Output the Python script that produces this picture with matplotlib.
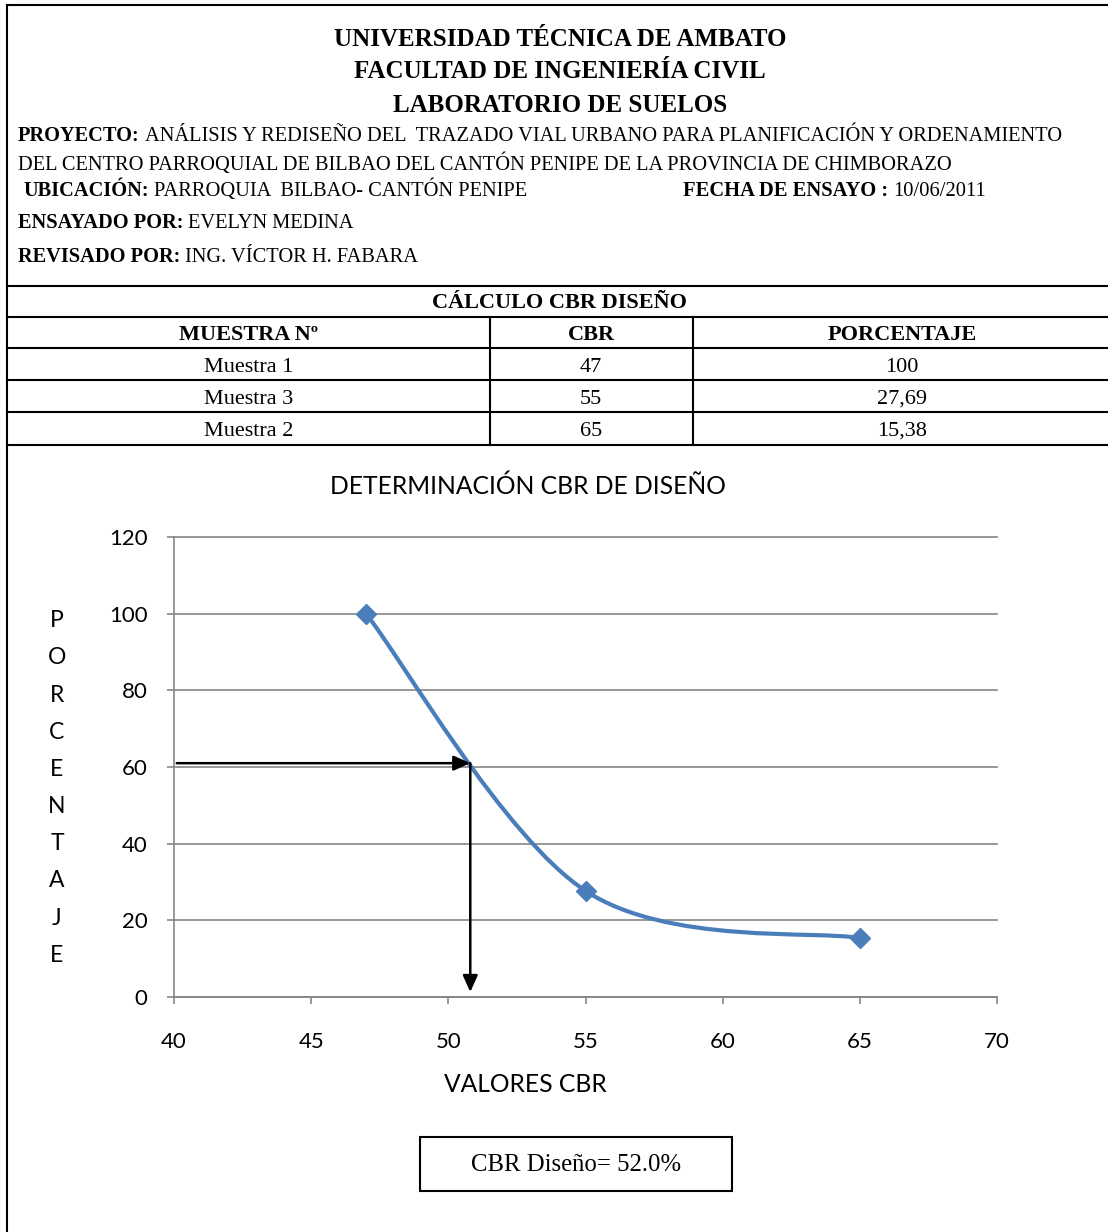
import matplotlib
matplotlib.use('Agg')
import matplotlib.pyplot as plt
from matplotlib.path import Path
from matplotlib.patches import PathPatch, Rectangle
import numpy as np

# --- data ---
muestras = ['Muestra 1', 'Muestra 3', 'Muestra 2']
cbr = [47, 55, 65]
porcentaje = [100, 27.69, 15.38]
porcentaje_txt = ['100', '27,69', '15,38']
cbr_lectura = 50.8      # CBR
pct_lectura = 61        # percentage used for the reading
cbr_diseno_txt = 'CBR Diseño= 52.0%'

x_ticks = [40, 45, 50, 55, 60, 65, 70]
y_ticks = [0, 20, 40, 60, 80, 100, 120]

W, H = 1108, 1232
SERIF = 'Liberation Serif'
SANS = 'Lato'
BLUE = '#4A7EBB'
GRAY = '#868686'

fig = plt.figure(figsize=(W / 100, H / 100), dpi=100)
fig.patch.set_facecolor('white')

# background axes in pixel coordinates for the form layout
bg = fig.add_axes([0, 0, 1, 1])
bg.set_xlim(0, W)
bg.set_ylim(H, 0)
bg.axis('off')

lw = 1.5
# outer frame and separators
bg.plot([7, W], [5, 5], color='black', lw=lw)
bg.plot([7, 7], [5, H], color='black', lw=lw)
for yy in [286, 317, 348, 380, 412, 445]:
    bg.plot([7, W], [yy, yy], color='black', lw=lw)
for xx in [490, 693]:
    bg.plot([xx, xx], [317, 445], color='black', lw=lw)

# header
for txt, yy in [('UNIVERSIDAD TÉCNICA DE AMBATO', 39),
                ('FACULTAD DE INGENIERÍA CIVIL', 72),
                ('LABORATORIO DE SUELOS', 105)]:
    bg.text(560, yy, txt, family=SERIF, weight='bold', fontsize=18,
            ha='center', va='center')


def label_line(x, y, bold, normal, size=14.7):
    t = bg.text(x, y, bold, family=SERIF, weight='bold', fontsize=size,
                ha='left', va='center')
    bg.annotate(normal, xy=(1, 0), xycoords=t, xytext=(3.5, 0),
                textcoords='offset points', family=SERIF, fontsize=size,
                ha='left', va='bottom')
    return t


label_line(18, 136, 'PROYECTO:',
           'ANÁLISIS Y REDISEÑO DEL  TRAZADO VIAL URBANO PARA PLANIFICACIÓN Y ORDENAMIENTO')
bg.text(18, 164, 'DEL CENTRO PARROQUIAL DE BILBAO DEL CANTÓN PENIPE DE LA PROVINCIA DE CHIMBORAZO',
        family=SERIF, fontsize=14.7, ha='left', va='center')
label_line(24, 191, 'UBICACIÓN:', 'PARROQUIA  BILBAO- CANTÓN PENIPE')
label_line(683, 191, 'FECHA DE ENSAYO :', '10/06/2011', size=14.8)
label_line(18, 223, 'ENSAYADO POR:', 'EVELYN MEDINA')
label_line(18, 257, 'REVISADO POR:', 'ING. VÍCTOR H. FABARA')

# table
col_x = [249, 591, 902]
row_y = [367, 399, 431]
bg.text(560, 303, 'CÁLCULO CBR DISEÑO', family=SERIF, weight='bold',
        fontsize=16, ha='center', va='center')
for cx, head in zip(col_x, ['MUESTRA Nº', 'CBR', 'PORCENTAJE']):
    bg.text(cx, 335, head, family=SERIF, weight='bold', fontsize=16,
            ha='center', va='center')
for ry, m, c, p in zip(row_y, muestras, cbr, porcentaje_txt):
    for cx, val in zip(col_x, [m, str(c), p]):
        bg.text(cx, ry, val, family=SERIF, fontsize=16, ha='center', va='center')

# chart
bg.text(528, 486, 'DETERMINACIÓN CBR DE DISEÑO', family=SANS, fontsize=17.7,
        ha='center', va='center')
bg.text(57, 788, '\n'.join('PORCENTAJE'), family=SANS, fontsize=16.5,
        ha='center', va='center', linespacing=1.95)
bg.text(525, 1085, 'VALORES CBR', family=SANS, fontsize=17.7,
        ha='center', va='center')

ax = fig.add_axes([174 / W, 1 - 997 / H, (997 - 174) / W, (997 - 537) / H])
ax.set_facecolor('none')
ax.set_xlim(40, 70)
ax.set_ylim(0, 120)
ax.set_xticks(x_ticks)
ax.set_yticks(y_ticks)
ax.grid(axis='y', color=GRAY, lw=1.2)
for gl in ax.get_ygridlines():
    gl.set_clip_on(False)
ax.set_axisbelow(True)
for side in ['top', 'right']:
    ax.spines[side].set_visible(False)
for side in ['left', 'bottom']:
    ax.spines[side].set_color(GRAY)
    ax.spines[side].set_linewidth(1.2)
ax.tick_params(axis='both', colors=GRAY, length=5, width=1.2, direction='out',
               labelsize=16, labelcolor='black')
ax.tick_params(axis='x', pad=20)
ax.tick_params(axis='y', pad=14)
for lab in ax.get_xticklabels() + ax.get_yticklabels():
    lab.set_family(SANS)

# Excel-style smoothed line (cubic Bezier through the points)
px = np.array(cbr, dtype=float)
py = np.array(porcentaje, dtype=float)
n = len(px)
verts = [(px[0], py[0])]
codes = [Path.MOVETO]
for i in range(n - 1):
    i0 = max(i - 1, 0)
    i3 = min(i + 2, n - 1)
    c1 = (px[i] + (px[i + 1] - px[i0]) / 6, py[i] + (py[i + 1] - py[i0]) / 6)
    c2 = (px[i + 1] - (px[i3] - px[i]) / 6, py[i + 1] - (py[i3] - py[i]) / 6)
    verts += [c1, c2, (px[i + 1], py[i + 1])]
    codes += [Path.CURVE4] * 3
ax.add_patch(PathPatch(Path(verts, codes), fill=False, edgecolor=BLUE, lw=3,
                       capstyle='round', zorder=3))
ax.plot(cbr, porcentaje, linestyle='none', marker='D', markersize=10,
        color=BLUE, zorder=4)

# reading arrows
arrow = dict(arrowstyle='-|>,head_length=1.0,head_width=0.45', color='black',
             lw=1.8, shrinkA=0, shrinkB=0)
ax.annotate('', xy=(cbr_lectura, pct_lectura), xytext=(40.1, pct_lectura),
            arrowprops=arrow, zorder=5)
ax.annotate('', xy=(cbr_lectura, 1.3), xytext=(cbr_lectura, pct_lectura),
            arrowprops=arrow, zorder=5)

# result box
bg.add_patch(Rectangle((420, 1137), 312, 54, fill=False, edgecolor='black', lw=1.5))
bg.text(576, 1165, cbr_diseno_txt, family=SERIF, fontsize=17.8, ha='center', va='center')

fig.savefig('out.png', dpi=100)
